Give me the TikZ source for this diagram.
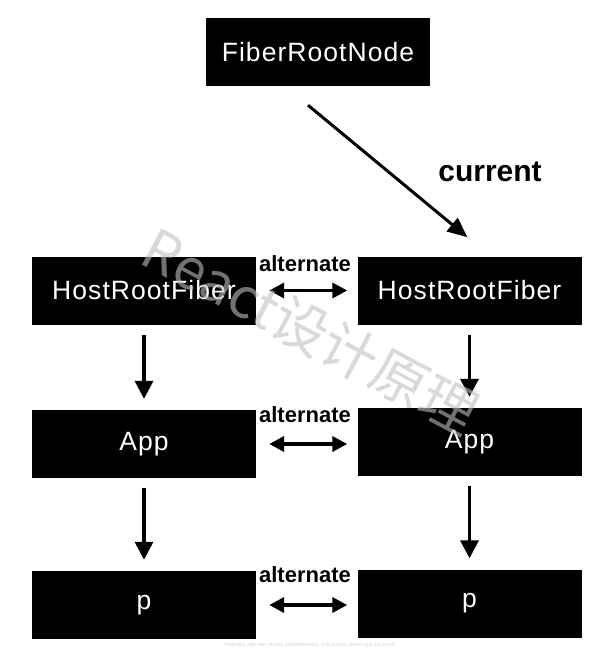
\documentclass[tikz,border=0pt]{standalone}
\usepackage{fontspec}
\setmainfont{Liberation Sans}
\newfontfamily\boxfont[LetterSpace=4]{Liberation Sans}
\newfontfamily\cjkfont{Noto Sans CJK SC}
\usetikzlibrary{arrows.meta}

\tikzset{
  fiber/.style={fill=black, text=white, inner sep=0pt,
    minimum width=224pt, minimum height=68pt,
    font=\boxfont\fontsize{26.5}{28}\selectfont},
  child/.style={-{Triangle[length=18pt,width=18pt]}, line width=3.5pt,
    shorten <=10pt, shorten >=11pt},
  alternate/.style={{Triangle[length=15pt,width=15pt]}-{Triangle[length=15pt,width=15pt]},
    line width=3.5pt, shorten <=13pt, shorten >=10pt},
  altlabel/.style={anchor=base, font=\bfseries\fontsize{22}{24}\selectfont}
}

\begin{document}
\begin{tikzpicture}[x=1pt, y=-1pt]
    \useasboundingbox (0,0) rectangle (615,655);

    % Root node
    \node[fiber] (root) at (318,52) {FiberRootNode};

    % Fiber trees: left and right columns
    \node[fiber] (hrfL) at (144,290.5) {HostRootFiber};
    \node[fiber] (appL) at (144,444)   {App};
    \node[fiber] (pL)   at (144,605)   {p};
    \node[fiber] (hrfR) at (469.5,290.5) {HostRootFiber};
    \node[fiber] (appR) at (469.5,442)   {App};
    \node[fiber] (pR)   at (469.5,603.5) {p};

    % current pointer
    \coordinate (curS) at ([xshift=-10pt, yshift=-19pt]root.south);
    \coordinate (curE) at ([xshift=-2pt, yshift=19pt]hrfR.north);
    \draw[-{Triangle[length=20pt,width=17pt]}, line width=3pt] (curS) -- (curE);
    \node[anchor=base, font=\bfseries\fontsize{30}{32}\selectfont] (curlabel) at (490,181) {current};

    % child links
    \draw[child] (hrfL) -- (appL);
    \draw[child] (appL) -- (pL);
    \draw[child] (hrfR) -- (appR);
    \draw[child] (appR) -- (pR);

    % alternate links
    \draw[alternate] (hrfL.east) -- (hrfL.east -| hrfR.west);
    \draw[alternate] (appL.east) -- (appL.east -| appR.west);
    \draw[alternate] (pL.east) -- (pL.east -| pR.west);
    \node[altlabel] (alt1) at (305,271) {alternate};
    \node[altlabel] (alt2) at (305,422) {alternate};
    \node[altlabel] (alt3) at (305,582) {alternate};

    % watermarks
    \node[text=gray!50, opacity=0.6, rotate=-28, font=\cjkfont\fontsize{56}{60}\selectfont]
      (mark) at (311,331) {React设计原理};
    \node[text=gray!35, font=\fontsize{5}{6}\selectfont] (note) at (310,645)
      {Protected with free version of Watermarkly. Full version doesn't put this mark.};
\end{tikzpicture}
\end{document}
